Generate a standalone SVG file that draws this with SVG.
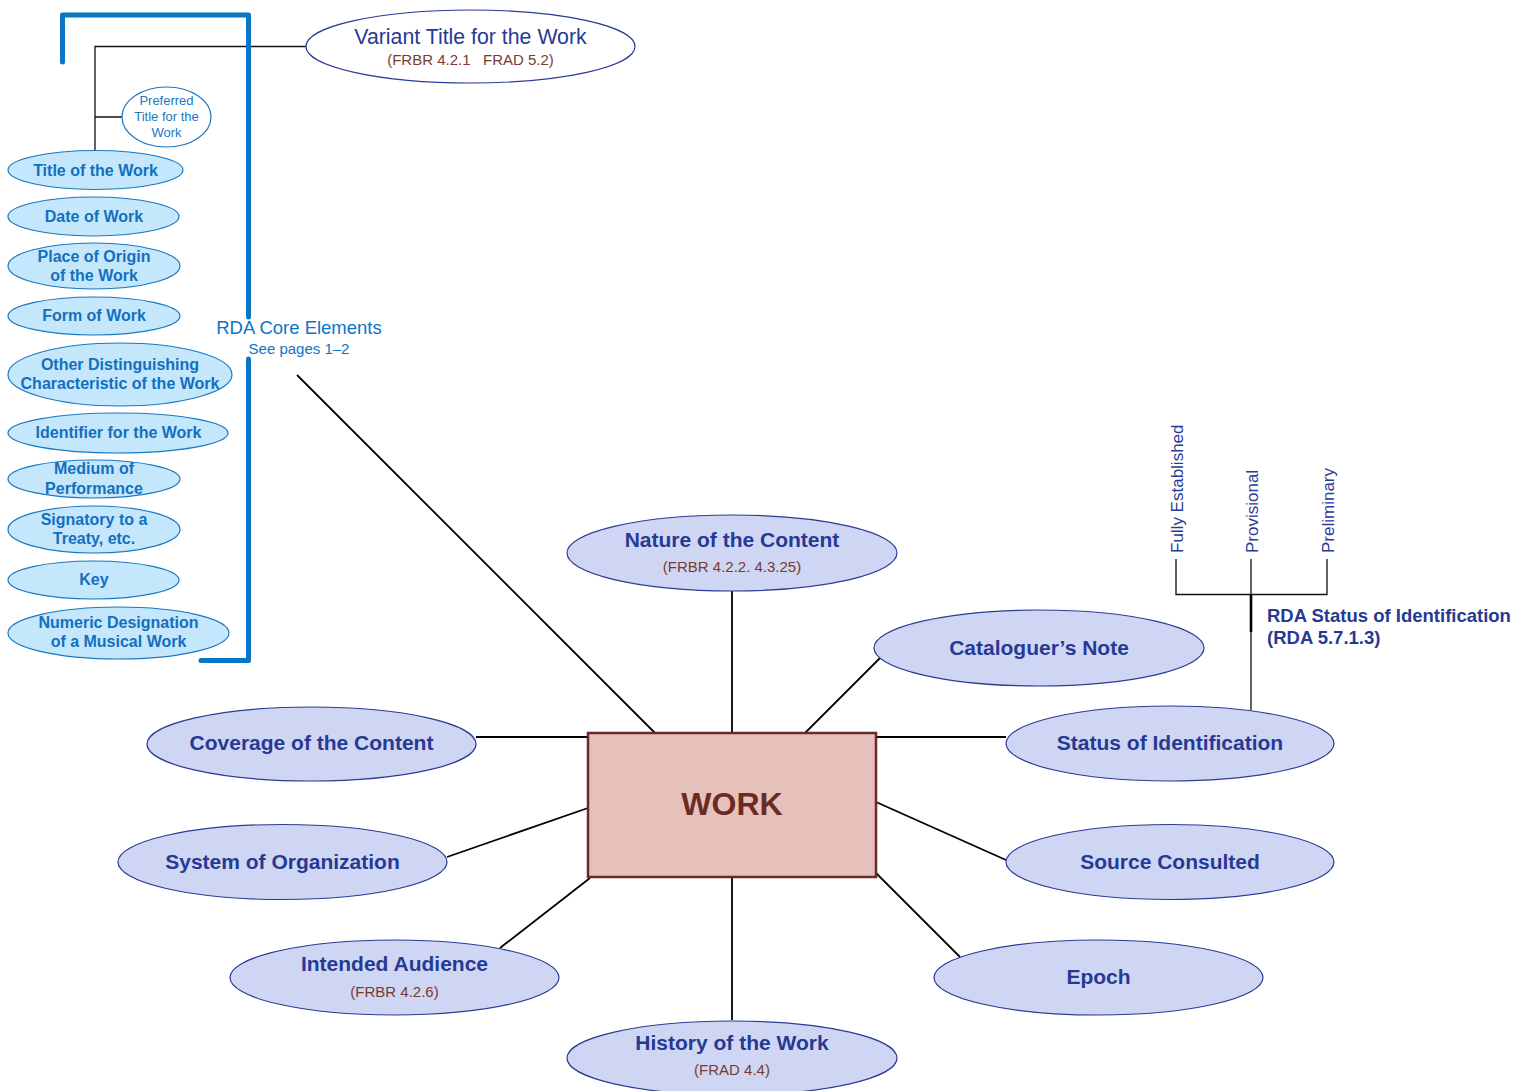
<svg xmlns="http://www.w3.org/2000/svg" width="1515" height="1091" viewBox="0 0 1515 1091">
<style>
.core ellipse{fill:#c4e7fc;stroke:#1a78c2;stroke-width:1.2}
.core text{font-family:"Liberation Sans",Arial,sans-serif;font-weight:bold;font-size:16px;fill:#1270bf;text-anchor:middle}
.attr ellipse{fill:#cfd6f3;stroke:#2b3b96;stroke-width:1.2}
.t{font-family:"Liberation Sans",Arial,sans-serif;font-weight:bold;font-size:21px;fill:#263a94;text-anchor:middle}
.s{font-family:"Liberation Sans",Arial,sans-serif;font-size:15px;fill:#7b3a2f;text-anchor:middle}
.c{stroke:#000;stroke-width:1.8;fill:none}
.thin{stroke:#111;stroke-width:1.3;fill:none}
.rot{font-family:"Liberation Sans",Arial,sans-serif;font-size:17px;fill:#2b3b96}
</style>
<rect width="1515" height="1091" fill="#fff"/>

<g id="connectors">
  <path class="thin" d="M306 46.5H95V151M95 117H122"/>
  <line class="c" x1="297" y1="375" x2="655" y2="733"/>
  <line class="c" x1="732" y1="591" x2="732" y2="733"/>
  <line class="c" x1="805" y1="733" x2="880" y2="658"/>
  <line class="c" x1="876" y1="737" x2="1006" y2="737"/>
  <line class="c" x1="476" y1="737" x2="588" y2="737"/>
  <line class="c" x1="447" y1="857" x2="588" y2="808"/>
  <line class="c" x1="500" y1="948" x2="590" y2="878"/>
  <line class="c" x1="732" y1="878" x2="732" y2="1020"/>
  <line class="c" x1="876" y1="873" x2="960" y2="957"/>
  <line class="c" x1="876" y1="802" x2="1006" y2="860"/>
  <path class="thin" d="M1176 559V594.5H1327V559M1251 559V710"/>
  <line x1="1251" y1="594" x2="1251" y2="632" stroke="#000" stroke-width="2.6"/>
</g>

<g id="bracket" fill="none" stroke="#0a76c6" stroke-width="5" stroke-linecap="round" stroke-linejoin="round">
  <path d="M62.5 62V15H248.5V317"/>
  <path d="M248.5 359V660.5H201"/>
</g>

<g id="core-label">
  <text x="299" y="334" font-family="Liberation Sans,Arial,sans-serif" font-size="18.5" fill="#0a76c6" text-anchor="middle">RDA Core Elements</text>
  <text x="299" y="354" font-family="Liberation Sans,Arial,sans-serif" font-size="15" fill="#0a76c6" text-anchor="middle">See pages 1–2</text>
</g>

<g id="variant-title">
  <ellipse cx="470.5" cy="46.5" rx="164.5" ry="36.5" fill="#fff" stroke="#2b3b96" stroke-width="1.2"/>
  <text x="470.5" y="44" font-family="Liberation Sans,Arial,sans-serif" font-size="21.3" fill="#263a94" text-anchor="middle">Variant Title for the Work</text>
  <text class="s" x="470.5" y="65">(FRBR 4.2.1&#160;&#160; FRAD 5.2)</text>
</g>

<g id="preferred-title">
  <ellipse cx="166.5" cy="117" rx="44.5" ry="30" fill="#fff" stroke="#1a78c2" stroke-width="1.2"/>
  <g font-family="Liberation Sans,Arial,sans-serif" font-size="13" fill="#1a78c2" text-anchor="middle">
    <text x="166.5" y="105">Preferred</text>
    <text x="166.5" y="121">Title for the</text>
    <text x="166.5" y="137">Work</text>
  </g>
</g>

<g class="core">
  <g id="title-of-work"><ellipse cx="95.5" cy="170" rx="87.5" ry="19.5"/><text x="95.5" y="175.5">Title of the Work</text></g>
  <g id="date-of-work"><ellipse cx="93.5" cy="216.5" rx="85.5" ry="19.5"/><text x="94" y="222">Date of Work</text></g>
  <g id="place-of-origin"><ellipse cx="94" cy="266" rx="86" ry="23"/><text x="94" y="262">Place of Origin</text><text x="94" y="281">of the Work</text></g>
  <g id="form-of-work"><ellipse cx="94" cy="316" rx="86" ry="19"/><text x="94" y="321">Form of Work</text></g>
  <g id="other-distinguishing"><ellipse cx="120" cy="374.5" rx="112" ry="31.5"/><text x="120" y="370">Other Distinguishing</text><text x="120" y="389">Characteristic of the Work</text></g>
  <g id="identifier"><ellipse cx="118" cy="433" rx="110" ry="20"/><text x="118.5" y="438">Identifier for the Work</text></g>
  <g id="medium"><ellipse cx="94" cy="479" rx="86" ry="19"/><text x="94" y="474">Medium of</text><text x="94" y="494">Performance</text></g>
  <g id="signatory"><ellipse cx="94" cy="529.5" rx="86" ry="23.5"/><text x="94" y="525">Signatory to a</text><text x="94" y="544">Treaty, etc.</text></g>
  <g id="key"><ellipse cx="93.5" cy="580" rx="85.5" ry="19"/><text x="94" y="585">Key</text></g>
  <g id="numeric-designation"><ellipse cx="118.5" cy="633" rx="110.5" ry="26"/><text x="118.5" y="628">Numeric Designation</text><text x="118.5" y="647">of a Musical Work</text></g>
</g>

<g id="work">
  <rect x="588" y="733" width="288" height="144" fill="#e6c0bb" stroke="#6b2b25" stroke-width="2.5"/>
  <text x="732" y="815" font-family="Liberation Sans,Arial,sans-serif" font-weight="bold" font-size="32" fill="#6b2b25" text-anchor="middle">WORK</text>
</g>

<g class="attr">
  <g id="nature-of-content"><ellipse cx="732" cy="553" rx="165" ry="38"/><text class="t" x="732" y="547">Nature of the Content</text><text class="s" x="732" y="572">(FRBR 4.2.2. 4.3.25)</text></g>
  <g id="cataloguers-note"><ellipse cx="1039" cy="648" rx="165" ry="38"/><text class="t" x="1039" y="655">Cataloguer’s Note</text></g>
  <g id="status-of-identification"><ellipse cx="1170" cy="743.5" rx="164" ry="37.5"/><text class="t" x="1170" y="750">Status of Identification</text></g>
  <g id="coverage"><ellipse cx="311.5" cy="744" rx="164.5" ry="37"/><text class="t" x="311.5" y="750">Coverage of the Content</text></g>
  <g id="system-of-organization"><ellipse cx="282.5" cy="862" rx="164.5" ry="37.5"/><text class="t" x="282.5" y="869">System of Organization</text></g>
  <g id="source-consulted"><ellipse cx="1170" cy="862" rx="164" ry="37.5"/><text class="t" x="1170" y="869">Source Consulted</text></g>
  <g id="intended-audience"><ellipse cx="394.5" cy="977.5" rx="164.5" ry="37.5"/><text class="t" x="394.5" y="971">Intended Audience</text><text class="s" x="394.5" y="997">(FRBR 4.2.6)</text></g>
  <g id="epoch"><ellipse cx="1098.5" cy="977.5" rx="164.5" ry="37.5"/><text class="t" x="1098.5" y="984">Epoch</text></g>
  <g id="history-of-work"><ellipse cx="732" cy="1058" rx="165" ry="37"/><text class="t" x="732" y="1050">History of the Work</text><text class="s" x="732" y="1075">(FRAD 4.4)</text></g>
</g>

<g id="status-values">
  <text class="rot" transform="translate(1183 553) rotate(-90)">Fully Established</text>
  <text class="rot" transform="translate(1258 553) rotate(-90)">Provisional</text>
  <text class="rot" transform="translate(1334 553) rotate(-90)">Preliminary</text>
</g>

<g id="status-label" font-family="Liberation Sans,Arial,sans-serif" font-weight="bold" font-size="18.5" fill="#263a94">
  <text x="1267" y="622">RDA Status of Identification</text>
  <text x="1267" y="644">(RDA 5.7.1.3)</text>
</g>
</svg>
